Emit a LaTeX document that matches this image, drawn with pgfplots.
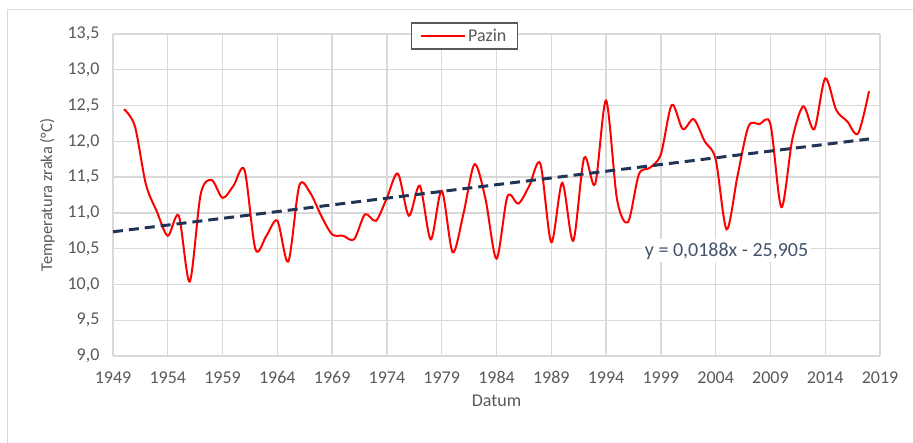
\documentclass[border=0pt]{standalone}
\usepackage{pgfplots}
\pgfplotsset{compat=1.18}
\usepackage{fontspec}
\setmainfont{Carlito}
\definecolor{txt}{HTML}{595959}
\definecolor{gridc}{HTML}{D9D9D9}
\definecolor{trend}{HTML}{203455}
\definecolor{trendtxt}{HTML}{44546A}
\begin{document}
\begin{tikzpicture}[x=1pt,y=1pt]
\useasboundingbox (0,0) rectangle (913,442);
\draw[gray!30, line width=1pt] (7,-5) -- (7,432) -- (930,432);
\begin{axis}[
  at={(113pt,86pt)}, anchor=south west,
  scale only axis, width=767pt, height=322pt,
  xmin=1949, xmax=2019, ymin=9, ymax=13.5,
  xtick={1949,1954,...,2019},
  ytick={9,9.5,...,13.5},
  grid=major,
  major grid style={gridc, line width=1.3pt},
  axis line style={draw=none},
  major tick length=0pt,
  /pgf/number format/assume math mode=true,
  tick label style={font=\fontsize{18}{20}\selectfont, text=txt},
  xticklabel style={/pgf/number format/1000 sep={}, yshift=-12pt},
  yticklabel style={/pgf/number format/fixed, /pgf/number format/fixed zerofill,
    /pgf/number format/precision=1, /pgf/number format/use comma, xshift=-10pt},
  xlabel={Datum},
  ylabel={Temperatura zraka (°C)},
  xlabel style={font=\fontsize{18}{20}\selectfont, text=txt, yshift=-4pt},
  ylabel style={font=\fontsize{16.5}{18}\selectfont, text=txt, yshift=6pt},
  legend style={at={(0.458,0.994)}, anchor=center, draw=txt, line width=1.3pt,
    fill=white, font=\fontsize{18}{20}\selectfont, text=txt,
    inner xsep=9pt, inner ysep=4pt},
  legend cell align=left,
  legend image code/.code={\draw[#1] (0pt,0pt) -- (44pt,0pt);},
  clip=false,
]
\draw[gridc, line width=1.6pt] (axis cs:1949,9) -- (axis cs:2019,9);
\addplot[red, line width=2pt, smooth, tension=0.5] coordinates {
(1950,12.45) (1951,12.21) (1952,11.40) (1953,11.02) (1954,10.68)
(1955,10.96) (1956,10.04) (1957,11.26) (1958,11.46) (1959,11.21)
(1960,11.38) (1961,11.60) (1962,10.49) (1963,10.68) (1964,10.89)
(1965,10.32) (1966,11.38) (1967,11.28) (1968,10.96) (1969,10.70)
(1970,10.68) (1971,10.63) (1972,10.98) (1973,10.89) (1974,11.21)
(1975,11.55) (1976,10.96) (1977,11.38) (1978,10.63) (1979,11.31)
(1980,10.45) (1981,11.00) (1982,11.68) (1983,11.19) (1984,10.36)
(1985,11.23) (1986,11.13) (1987,11.38) (1988,11.69) (1989,10.59)
(1990,11.42) (1991,10.61) (1992,11.77) (1993,11.40) (1994,12.57)
(1995,11.19) (1996,10.87) (1997,11.54) (1998,11.63) (1999,11.82)
(2000,12.51) (2001,12.17) (2002,12.31) (2003,12.00) (2004,11.75)
(2005,10.77) (2006,11.52) (2007,12.21) (2008,12.24) (2009,12.24)
(2010,11.08) (2011,12.03) (2012,12.49) (2013,12.17) (2014,12.88)
(2015,12.44) (2016,12.28) (2017,12.11) (2018,12.70)
};
\addlegendentry{Pazin}
\addplot[forget plot, trend, line width=3pt, dash pattern=on 10pt off 6pt] coordinates {
(1949,10.736) (2018,12.033)
};
\node[fill=white, text=trendtxt, font=\fontsize{20}{22}\selectfont, inner sep=3pt]
  at (axis cs:2005,10.47) {y = 0,0188x - 25,905};
\end{axis}
\end{tikzpicture}
\end{document}
